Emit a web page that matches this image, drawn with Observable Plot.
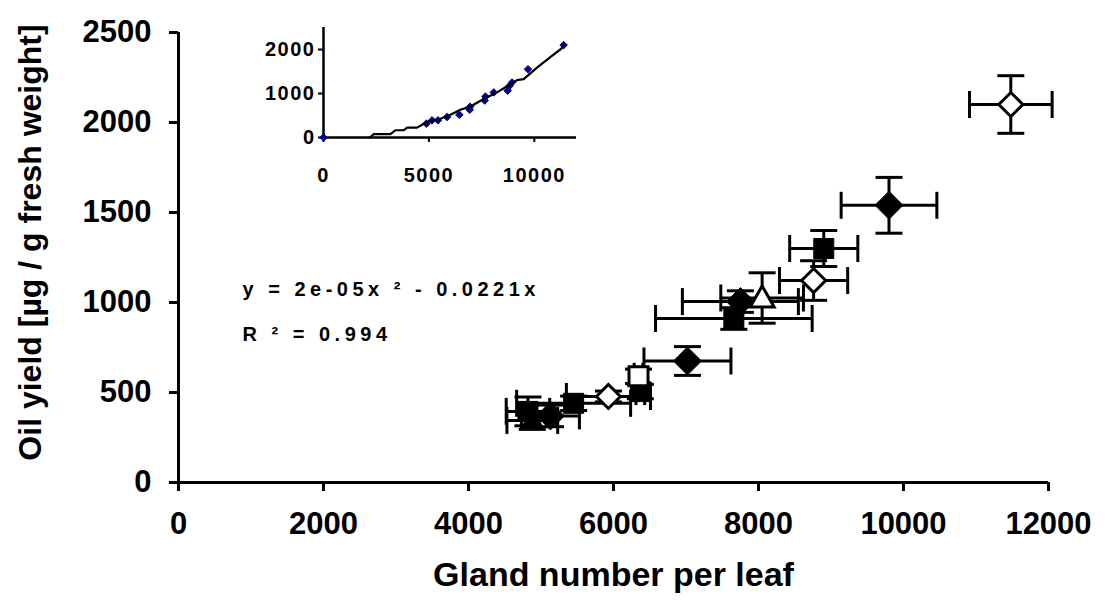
<!DOCTYPE html>
<html>
<head>
<meta charset="utf-8">
<script src="https://cdn.jsdelivr.net/npm/d3@7"></script>
<script src="https://cdn.jsdelivr.net/npm/@observablehq/plot@0.6"></script>
<style>
  html, body { margin: 0; padding: 0; background: white; }
  #wrap { position: relative; width: 1106px; height: 606px; overflow: hidden; }
  #inset { position: absolute; left: 250px; top: 20px; }
</style>
</head>
<body>
<div id="wrap"><div id="main"></div><div id="inset"></div></div>
<script>
// ---- Data ----
const glands    = [11480, 9800, 8900, 8760, 8050, 7750, 7660, 7020, 6345, 6370, 5930, 5450, 5130, 4880, 4820];
const oilYield  = [ 2100, 1540, 1300, 1122, 1025, 1005,  911,  675,  590,  505,  478,  440,  370,  345,  395];
const glandErr  = [  570,  660,  470,  470,  570,  800, 1080,  600,   60,   60,  580,  786,  400,  350,  300];
const yieldErr  = [  160,  155,  100,  110,  140,   60,   60,   80,   40,   40,   30,   40,   60,   50,   80];
const markerKind = ["openDiamond","filledDiamond","filledSquare","openDiamond","openTriangle","filledDiamond",
                    "filledSquare","filledDiamond","openSquare","filledSquare","openDiamond","filledSquare",
                    "filledDiamond","filledTriangle","filledSquare"];

const xTicks = [0, 2000, 4000, 6000, 8000, 10000, 12000];
const yTicks = [0, 500, 1000, 1500, 2000, 2500];

const insetX = [0, 4880, 5150, 5430, 5860, 6445, 6935, 6950, 7645, 7680, 8075, 8735, 8830, 8940, 9700, 11390];
const insetY = [0,  315,  390,  390,  465,  515,  630,  700,  840,  930, 1025, 1065, 1175, 1250, 1550, 2100];
const fitX = [2196, 2385, 3175, 3412, 3807, 3965, 4439, 4913, 5545, 6019, 6493, 6967, 7599, 8231, 8863, 9179, 9494, 10128, 10758, 11232, 11390];
const fitY = [   0,   75,   75,  165,  165,  225,  225,  352,  427,  517,  629,  704,  876, 1026, 1213, 1303, 1326,  1588,  1828,  2000,  2075];
const insetXTicks = [0, 5000, 10000];
const insetYTicks = [0, 1000, 2000];

const xLabel = "Gland number per leaf";
const yLabel = "Oil yield [µg / g fresh weight]";
const eqLines = ["y = 2e-05x ² - 0.0221x", "R ² = 0.994"];

// ---- Table ----
const points = glands.map((x, i) => ({x, y: oilYield[i], xe: glandErr[i], ye: yieldErr[i], kind: markerKind[i]}));
const insetPts = insetX.map((x, i) => ({x, y: insetY[i]}));
const fitLine = fitX.map((x, i) => ({x, y: fitY[i]}));

// ---- Custom symbols (pixel sized) ----
const capV = {draw(c) { c.moveTo(0, -13.5); c.lineTo(0, 13.5); }};
const capH = {draw(c) { c.moveTo(-13.5, 0); c.lineTo(13.5, 0); }};
const diamondBig = {draw(c) { const h = 14; c.moveTo(0, -h); c.lineTo(h, 0); c.lineTo(0, h); c.lineTo(-h, 0); c.closePath(); }};
const diamondOpen = {draw(c) { const h = 12; c.moveTo(0, -h); c.lineTo(h, 0); c.lineTo(0, h); c.lineTo(-h, 0); c.closePath(); }};
const squareFilled = {draw(c) { const h = 10; c.rect(-h, -h, 2 * h, 2 * h); }};
const squareOpen = {draw(c) { const h = 9.5; c.rect(-h, -h, 2 * h, 2 * h); }};
const triangle = {draw(c) { c.moveTo(0, -12); c.lineTo(12, 9); c.lineTo(-12, 9); c.closePath(); }};

const font = "'Liberation Sans', Arial, Helvetica, sans-serif";
const of = k => points.filter(d => d.kind === k);

const main = Plot.plot({
  width: 1106, height: 606,
  marginLeft: 178, marginRight: 58, marginTop: 32, marginBottom: 124,
  style: {fontFamily: font, fontWeight: "bold", background: "white", color: "black"},
  x: {domain: [0, 12000]},
  y: {domain: [0, 2500]},
  marks: [
    Plot.axisX({ticks: xTicks, tickSize: 9, tickPadding: 20, fontSize: 31, strokeWidth: 3, label: null, tickFormat: d => `${d}`}),
    Plot.axisY({ticks: yTicks, tickSize: 9, tickPadding: 18, fontSize: 31, strokeWidth: 3, label: null, tickFormat: d => `${d}`}),
    Plot.ruleX([0], {strokeWidth: 3}),
    Plot.ruleY([0], {strokeWidth: 3}),
    // error bars
    Plot.link(points, {x1: d => d.x - d.xe, x2: d => d.x + d.xe, y1: "y", y2: "y", stroke: "black", strokeWidth: 3}),
    Plot.link(points, {x1: "x", x2: "x", y1: d => d.y - d.ye, y2: d => d.y + d.ye, stroke: "black", strokeWidth: 3}),
    Plot.dot(points, {x: d => d.x - d.xe, y: "y", symbol: capV, fill: "none", stroke: "black", strokeWidth: 3}),
    Plot.dot(points, {x: d => d.x + d.xe, y: "y", symbol: capV, fill: "none", stroke: "black", strokeWidth: 3}),
    Plot.dot(points, {x: "x", y: d => d.y - d.ye, symbol: capH, fill: "none", stroke: "black", strokeWidth: 3}),
    Plot.dot(points, {x: "x", y: d => d.y + d.ye, symbol: capH, fill: "none", stroke: "black", strokeWidth: 3}),
    // markers
    Plot.dot(of("filledTriangle"), {x: "x", y: "y", symbol: triangle, fill: "black", stroke: "black", strokeWidth: 1}),
    Plot.dot(of("filledSquare"), {x: "x", y: "y", symbol: squareFilled, fill: "black", stroke: "black", strokeWidth: 1}),
    Plot.dot(of("filledDiamond"), {x: "x", y: "y", symbol: diamondBig, fill: "black", stroke: "black", strokeWidth: 1}),
    Plot.dot(of("openSquare"), {x: "x", y: "y", symbol: squareOpen, fill: "white", stroke: "black", strokeWidth: 3}),
    Plot.dot(of("openTriangle"), {x: "x", y: "y", symbol: triangle, fill: "white", stroke: "black", strokeWidth: 3}),
    Plot.dot(of("openDiamond"), {x: "x", y: "y", symbol: diamondOpen, fill: "white", stroke: "black", strokeWidth: 3}),
    // equation
    Plot.text([eqLines[0]], {text: d => d, frameAnchor: "top-left", dx: 64, dy: 249, textAnchor: "start", fontSize: 20}),
    Plot.text([eqLines[1]], {text: d => d, frameAnchor: "top-left", dx: 64, dy: 294, textAnchor: "start", fontSize: 20}),
    // axis titles
    Plot.text([xLabel], {text: d => d, frameAnchor: "bottom", dy: 103, fontSize: 34}),
    Plot.text([yLabel], {text: d => d, frameAnchor: "left", textAnchor: "middle", dx: -148, dy: -15, rotate: -90, fontSize: 32})
  ]
});
d3.select(main).selectAll("text").filter(function() { return /^(y =|R )/.test(this.textContent); })
  .attr("letter-spacing", "4.5px");
document.getElementById("main").appendChild(main);

const inset = Plot.plot({
  width: 340, height: 175,
  marginLeft: 73, marginRight: 14, marginTop: 7, marginBottom: 58,
  style: {fontFamily: font, fontWeight: "bold", background: "transparent", color: "black"},
  x: {domain: [0, 12000]},
  y: {domain: [0, 2500]},
  marks: [
    Plot.axisX({ticks: insetXTicks, tickSize: 5, tickPadding: 25, fontSize: 20, strokeWidth: 2, label: null, tickFormat: d => `${d}`}),
    Plot.axisY({ticks: insetYTicks, tickSize: 5, tickPadding: 3, fontSize: 20, strokeWidth: 2, label: null, tickFormat: d => `${d}`}),
    Plot.ruleX([0], {strokeWidth: 2.5}),
    Plot.ruleY([0], {strokeWidth: 2.5}),
    Plot.dot(insetPts, {x: "x", y: "y", symbol: "diamond2", r: 3.4, fill: "#00008b", stroke: "#00008b", strokeWidth: 1}),
    Plot.line(fitLine, {x: "x", y: "y", stroke: "black", strokeWidth: 2.2})
  ]
});
d3.select(inset).selectAll("text").attr("letter-spacing", "1.5px");
document.getElementById("inset").appendChild(inset);
</script>
</body>
</html>
